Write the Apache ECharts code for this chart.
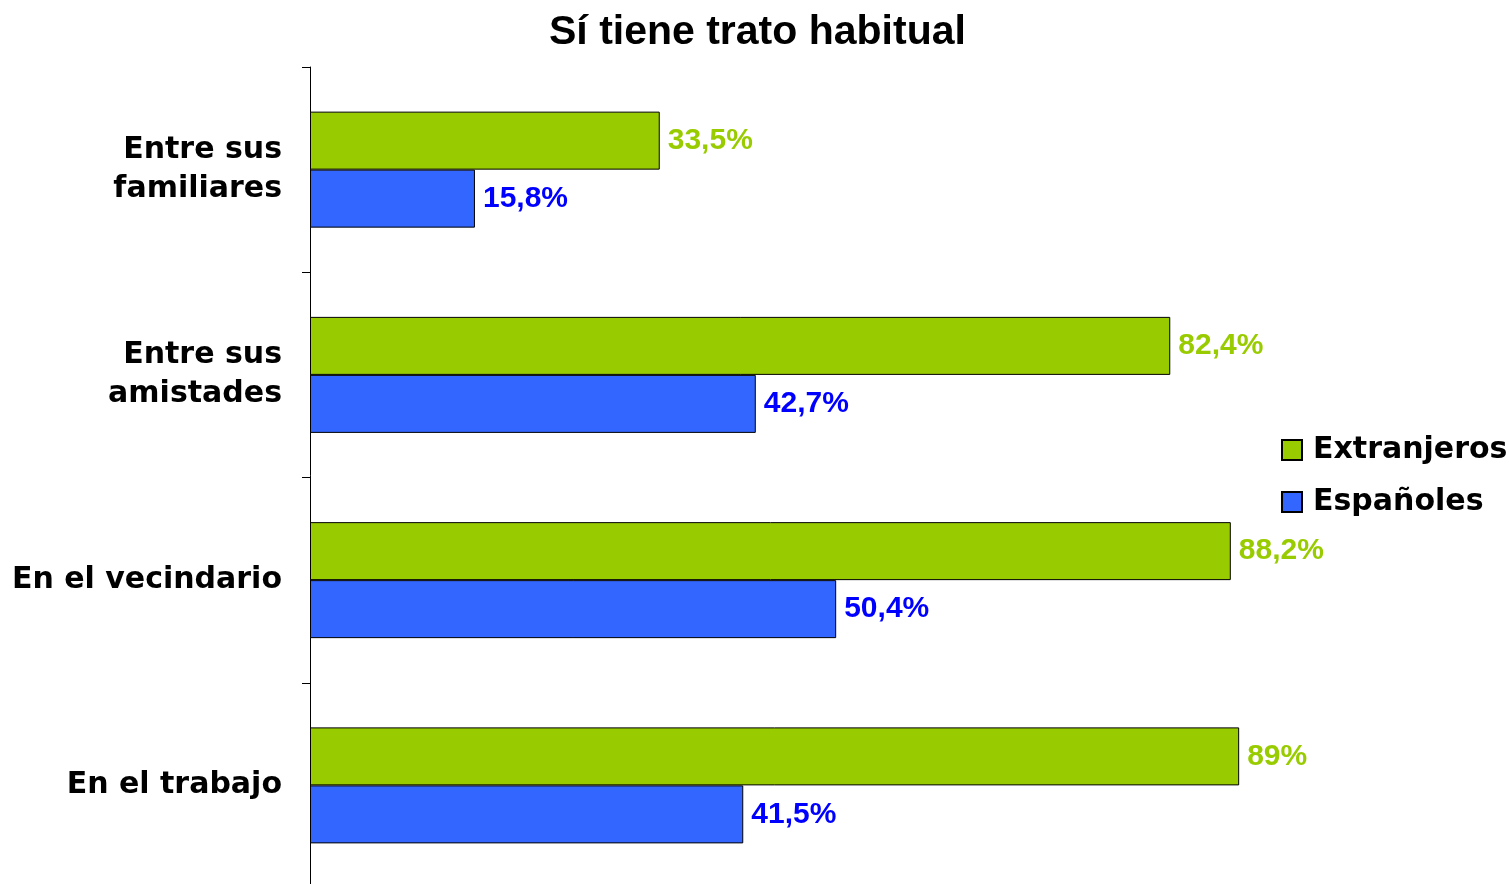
<!DOCTYPE html>
<html>
<head>
<meta charset="utf-8">
<script src="https://cdn.jsdelivr.net/npm/echarts@6/dist/echarts.min.js"></script>
<style>html,body{margin:0;padding:0;background:#fff;}#chart{width:1509px;height:884px;}</style>
</head>
<body>
<div id="chart"></div>
<script>
const categories = ['Entre sus\nfamiliares', 'Entre sus\namistades', 'En el vecindario', 'En el trabajo'];
const extranjeros = [33.5, 82.4, 88.2, 89];
const espanoles = [15.8, 42.7, 50.4, 41.5];
const seriesNames = ['Extranjeros', 'Españoles'];

function fmt(v) { return String(v).replace('.', ',') + '%'; }

const chart = echarts.init(document.getElementById('chart'));
chart.setOption({
  backgroundColor: '#ffffff',
  animation: false,
  title: {
    text: 'Sí tiene trato habitual',
    left: 549,
    top: 12,
    padding: 0,
    textStyle: { fontFamily: 'Liberation Sans', fontWeight: 'bold', fontSize: 41, color: '#000' }
  },
  legend: {
    orient: 'vertical',
    left: 1281,
    top: 435,
    padding: 0,
    itemWidth: 20,
    itemHeight: 20,
    itemGap: 22,
    icon: 'rect',
    textStyle: { fontFamily: 'DejaVu Sans', fontWeight: 'bold', fontSize: 30, color: '#000', padding: [0, 0, 0, 6] },
    data: seriesNames
  },
  grid: { left: 310, top: 67, width: 1044, height: 821, containLabel: false, outerBoundsMode: 'none' },
  xAxis: {
    type: 'value', min: 0, max: 100,
    axisLine: { show: false }, axisTick: { show: false },
    axisLabel: { show: false }, splitLine: { show: false }
  },
  yAxis: {
    type: 'category',
    inverse: true,
    data: categories,
    axisLine: { show: true, lineStyle: { color: '#000', width: 1 } },
    axisTick: { show: true, length: 8, lineStyle: { color: '#000' } },
    axisLabel: {
      margin: 28,
      fontFamily: 'DejaVu Sans', fontWeight: 'bold', fontSize: 30, color: '#000',
      lineHeight: 39, align: 'right', padding: [7, 0, 0, 0]
    }
  },
  series: [
    {
      name: seriesNames[0], type: 'bar', data: extranjeros,
      barWidth: 58, barGap: '0%',
      itemStyle: { color: '#99CC00', borderColor: '#000', borderWidth: 1 },
      label: { show: true, position: 'right', distance: 8, formatter: p => fmt(p.value),
        fontFamily: 'Liberation Sans', fontWeight: 'bold', fontSize: 30, color: '#99CC00', padding: [3, 0, 0, 0] }
    },
    {
      name: seriesNames[1], type: 'bar', data: espanoles,
      barWidth: 58, barGap: '0%',
      itemStyle: { color: '#3366FF', borderColor: '#000', borderWidth: 1 },
      label: { show: true, position: 'right', distance: 8, formatter: p => fmt(p.value),
        fontFamily: 'Liberation Sans', fontWeight: 'bold', fontSize: 30, color: '#0000FF', padding: [3, 0, 0, 0] }
    }
  ]
});
</script>
</body>
</html>
